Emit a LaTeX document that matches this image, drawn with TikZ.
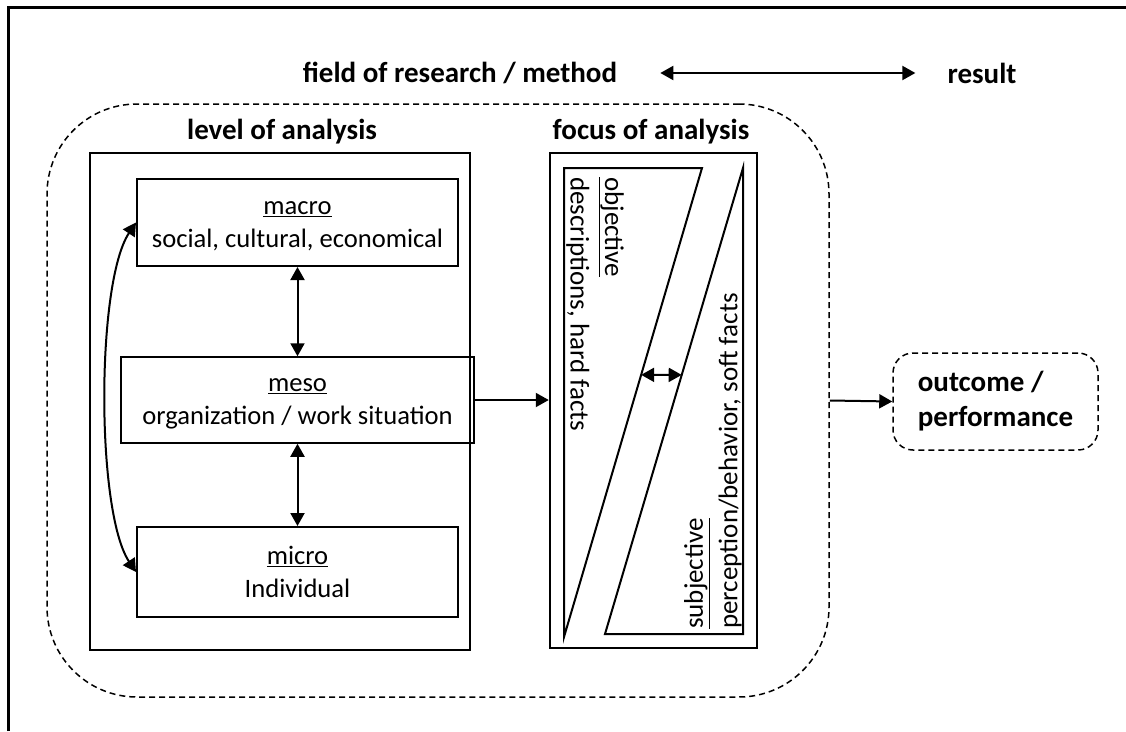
\documentclass[tikz,border=0pt]{standalone}
\usepackage{fontspec}
\setmainfont{Carlito}
\usetikzlibrary{arrows.meta,calc}
\newcommand{\firststrut}{\rule{0pt}{20.5pt}}
\begin{document}
\begin{tikzpicture}[x=1pt,y=-1pt,
  tip/.tip={Triangle[length=13pt,width=14pt]},
  boxline/.style={draw,line width=2pt,inner sep=0pt},
  levelbox/.style={boxline,align=center,font=\fontsize{26.6}{33}\selectfont},
  heading/.style={inner sep=0pt,font=\bfseries\fontsize{29}{35}\selectfont},
  dbl/.style={tip-tip,line width=2pt},
  arr/.style={-tip,line width=2pt},
  dashbox/.style={draw,line width=1.5pt,dash pattern=on 6pt off 4pt,inner sep=0pt},
  sidetext/.style={inner sep=0pt,align=left,font=\fontsize{27}{34.5}\selectfont}]

% canvas
\fill[white] (0,0) rectangle (1126,731);
\useasboundingbox (0,0) rectangle (1126,731);
\draw[line width=3pt] (8.5,731) -- (8.5,7.5) -- (1126,7.5);

% headline
\node[heading] (fieldlbl) at (460,73) {field of research / method};
\node[heading] (resultlbl) at (982,73) {result};
\draw[dbl,shorten <=43pt,shorten >=32pt] (fieldlbl.east) -- (resultlbl.west);

% dashed region around the analysis
\node[dashbox,rounded corners=90pt,minimum width=782pt,minimum height=593pt] (region) at (438,400.5) {};

% level of analysis
\node[heading] (leveltitle) at (282,132) {level of analysis};
\node[boxline,line width=2.5pt,minimum width=380pt,minimum height=497pt] (level) at (280,401.5) {};
\node[levelbox,minimum width=321pt,minimum height=87pt] (macro) at (297.5,222.5)
  {\firststrut\underline{macro}\\social, cultural, economical};
\node[levelbox,line width=1.5pt,minimum width=353pt,minimum height=86pt] (meso) at (297.5,400)
  {\firststrut\underline{meso}\\organization / work situation};
\node[levelbox,minimum width=321pt,minimum height=90pt] (micro) at (297.5,572)
  {\underline{micro}\\Individual};
\draw[dbl] (macro.south) -- (meso.north);
\draw[dbl] (meso.south) -- (micro.north);
\draw[dbl] (macro.west) .. controls +(-40,60) and +(-40,-60) .. (micro.west);

% focus of analysis
\node[heading] (focustitle) at (651,132) {focus of analysis};
\node[boxline,line width=2.5pt,minimum width=207pt,minimum height=495pt] (focus) at (653.5,400.5) {};
\coordinate (oTL) at (564,168);
\coordinate (oTR) at (702,168);
\coordinate (oBL) at (564,637);
\coordinate (sTR) at (743,168);
\coordinate (sBR) at (743,634);
\coordinate (sBL) at (605,634);
\draw[line width=2pt,line join=miter] (oTL) -- (oTR) -- (oBL) -- cycle;
\draw[line width=2pt,line join=miter] (sTR) -- (sBR) -- (sBL) -- cycle;
\node[sidetext,rotate=-90,anchor=north west] (objtext) at (624,177)
  {\underline{objective}\\descriptions, hard facts};
\node[sidetext,rotate=90,anchor=north west] (subjtext) at (684,629)
  {\underline{subjective}\\perception/behavior, soft facts};
\coordinate (gapL) at ($(oTR)!0.441!(oBL)$);
\coordinate (gapR) at ($(sTR)!0.444!(sBL)$);
\draw[dbl] (gapL) -- (gapR);

\draw[arr] (meso.east) -- (focus.west |- meso.east);

% outcome
\node[dashbox,rounded corners=20pt,minimum width=205pt,minimum height=97pt,align=left,
  font=\bfseries\fontsize{29}{35}\selectfont] (outcome) at (995.5,401.5) {outcome /\\performance};
\draw[arr] (region.east) -- (outcome.west);
\end{tikzpicture}
\end{document}
